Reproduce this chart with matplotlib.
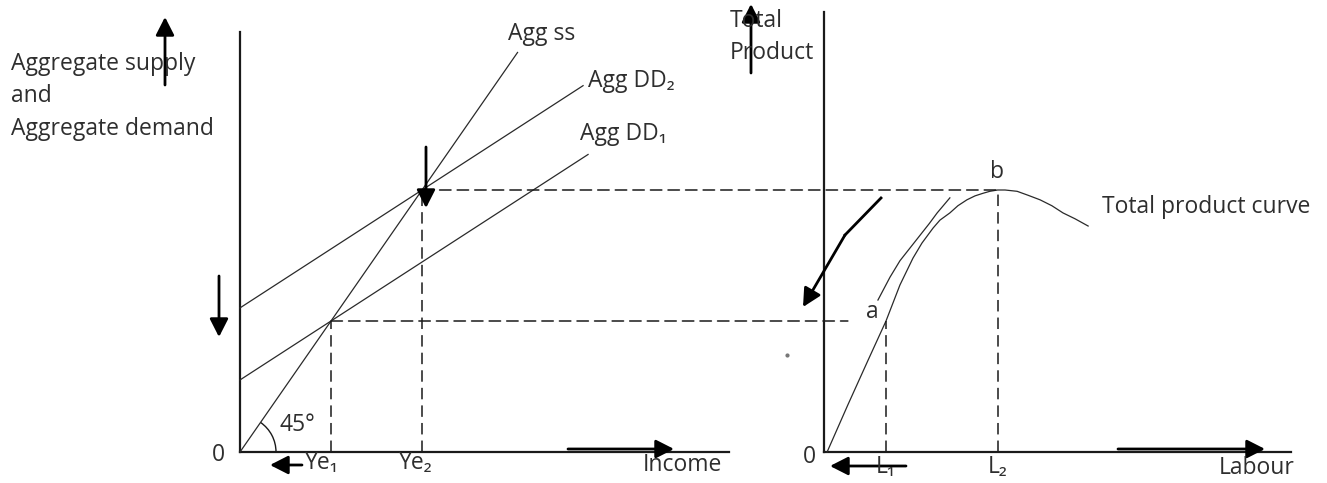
import matplotlib
matplotlib.use('Agg')
import matplotlib.pyplot as plt
from matplotlib.patches import Arc, ConnectionPatch, FancyArrowPatch

W, H = 1327, 483

# left diagram: aggregate supply / aggregate demand against income
income_max = 10.75
ad_axis_top = 6.41
ss_end = 6.1            # Agg ss is the 45 degree line
dd_slope = 0.45
dd1_intercept = 1.1
dd2_intercept = 2.2
dd1_end = 7.65
dd2_end = 7.54
ye = [2.0, 4.0]         # Ye1, Ye2

# right diagram: total product against labour
labour_max = 15.06
tp_axis_top = 6.72
tp_labour = [0.1, 0.77, 1.42, 2.0, 2.45, 2.87, 3.16, 3.52, 3.74, 4.06, 4.32, 4.61,
             4.87, 5.13, 5.35, 5.6, 5.84, 6.23, 6.58, 6.97, 7.35, 7.71, 8.10, 8.52]
tp_output = [0.0, 0.72, 1.40, 2.0, 2.55, 2.96, 3.19, 3.42, 3.54, 3.65, 3.76, 3.85,
             3.91, 3.95, 3.98, 4.0, 4.0, 3.98, 3.92, 3.85, 3.76, 3.65, 3.56, 3.45]
shift_labour = [1.74, 2.13, 2.45, 2.80, 3.10, 3.40, 3.65, 4.06]
shift_output = [2.32, 2.67, 2.92, 3.13, 3.31, 3.49, 3.65, 3.88]
labour_pts = [2.0, 5.6]  # L1, L2
low_dash_end = 0.77

# pixel placement of the two origins and the unit sizes
L_ORIG = (240, 452)
R_ORIG = (824, 452)
X1_PX, X2_PX, Y_PX = 45.5, 31.0, 65.5

INK = '#1a1a1a'
THIN = '#2a2a2a'
TXT = '#2e2e2e'
FONT = ['Open Sans', 'DejaVu Sans']
FS = 16.5
DASH = (0, (7.5, 4))

fig = plt.figure(figsize=(W / 100, H / 100), dpi=100)
ax1 = fig.add_axes([0, 0, 1, 1])
ax2 = fig.add_axes([0, 0, 1, 1])
ylim = (-(H - L_ORIG[1]) / Y_PX, L_ORIG[1] / Y_PX)
ax1.set_xlim(-L_ORIG[0] / X1_PX, (W - L_ORIG[0]) / X1_PX)
ax2.set_xlim(-R_ORIG[0] / X2_PX, (W - R_ORIG[0]) / X2_PX)
for ax in (ax1, ax2):
    ax.set_ylim(*ylim)
    ax.axis('off')
ax2.patch.set_alpha(0)


def px(x, y):
    return (x / W, 1 - y / H)


# axes
ax1.plot([0, 0], [0, ad_axis_top], color=INK, lw=1.6)
ax1.plot([0, income_max], [0, 0], color=INK, lw=1.6)
ax2.plot([0, 0], [0, tp_axis_top], color=INK, lw=1.6)
ax2.plot([0, labour_max], [0, 0], color=INK, lw=1.6)

# left curves
ax1.plot([0, ss_end], [0, ss_end], color=THIN, lw=0.9)
ax1.plot([0, dd1_end], [dd1_intercept, dd1_intercept + dd_slope * dd1_end], color=THIN, lw=0.9)
ax1.plot([0, dd2_end], [dd2_intercept, dd2_intercept + dd_slope * dd2_end], color=THIN, lw=0.9)
for y in ye:
    ax1.plot([y, y], [0, y], color=INK, lw=1.1, linestyle=DASH)
ax1.add_patch(Arc((0, 0), 2 * 36 / X1_PX, 2 * 36 / Y_PX, theta1=0, theta2=45, color=INK, lw=1.0))

# right curves
ax2.plot(tp_labour, tp_output, color=THIN, lw=0.9, solid_joinstyle='round')
ax2.plot(shift_labour, shift_output, color=THIN, lw=0.9, solid_joinstyle='round')
for l, y in zip(labour_pts, ye):
    ax2.plot([l, l], [0, y], color=INK, lw=1.1, linestyle=DASH)

# horizontal links between the two diagrams
for a, b in [((ye[0], ye[0]), (low_dash_end, ye[0])), ((ye[1], ye[1]), (labour_pts[1], ye[1]))]:
    con = ConnectionPatch(a, b, coordsA=ax1.transData, coordsB=ax2.transData,
                          color=INK, lw=1.1, linestyle=DASH)
    fig.add_artist(con)


def arrow(tail, tip):
    fig.add_artist(FancyArrowPatch(px(*tail), px(*tip), transform=fig.transFigure,
                                   arrowstyle='-|>,head_length=0.55,head_width=0.28',
                                   mutation_scale=20, lw=2.0, color='black',
                                   shrinkA=0, shrinkB=0))


arrow((165, 85), (165, 17))
arrow((751, 73), (751, 4))
arrow((219, 276), (219, 337))
arrow((426, 147), (426, 208))
arrow((302, 465), (270, 465))
arrow((906, 466), (830, 466))
arrow((568, 449), (674, 449))
arrow((1118, 449), (1265, 449))
fig.add_artist(plt.Line2D(*zip(px(881, 198), px(845, 235)), transform=fig.transFigure,
                          color='black', lw=2.0))
arrow((845, 235), (803, 307))
fig.add_artist(plt.Line2D([px(787, 355)[0]], [px(787, 355)[1]], transform=fig.transFigure,
                          marker='o', ms=2, color='#777777', lw=0))


def label(x, y, s, ha='left', va='baseline'):
    fig.text(*px(x, y), s, ha=ha, va=va, fontsize=FS, family=FONT, color=TXT)


label(11, 70, 'Aggregate supply')
label(11, 102, 'and')
label(11, 135, 'Aggregate demand')
label(508, 40, 'Agg ss')
label(588, 87, 'Agg DD₂')
label(580, 140, 'Agg DD₁')
label(218, 455, '0', ha='center', va='center')
label(280, 425, '45°', va='center')
label(322, 463, 'Ye₁', ha='center', va='center')
label(416, 463, 'Ye₂', ha='center', va='center')
label(643, 465, 'Income', va='center')
label(730, 27, 'Total')
label(730, 59, 'Product')
label(809, 457, '0', ha='center', va='center')
label(872, 312, 'a', ha='center', va='center')
label(997, 172, 'b', ha='center', va='center')
label(1102, 207, 'Total product curve', va='center')
label(886, 467, 'L₁', ha='center', va='center')
label(998, 467, 'L₂', ha='center', va='center')
label(1219, 468, 'Labour', va='center')

fig.savefig('out.png', dpi=100, facecolor='white')
